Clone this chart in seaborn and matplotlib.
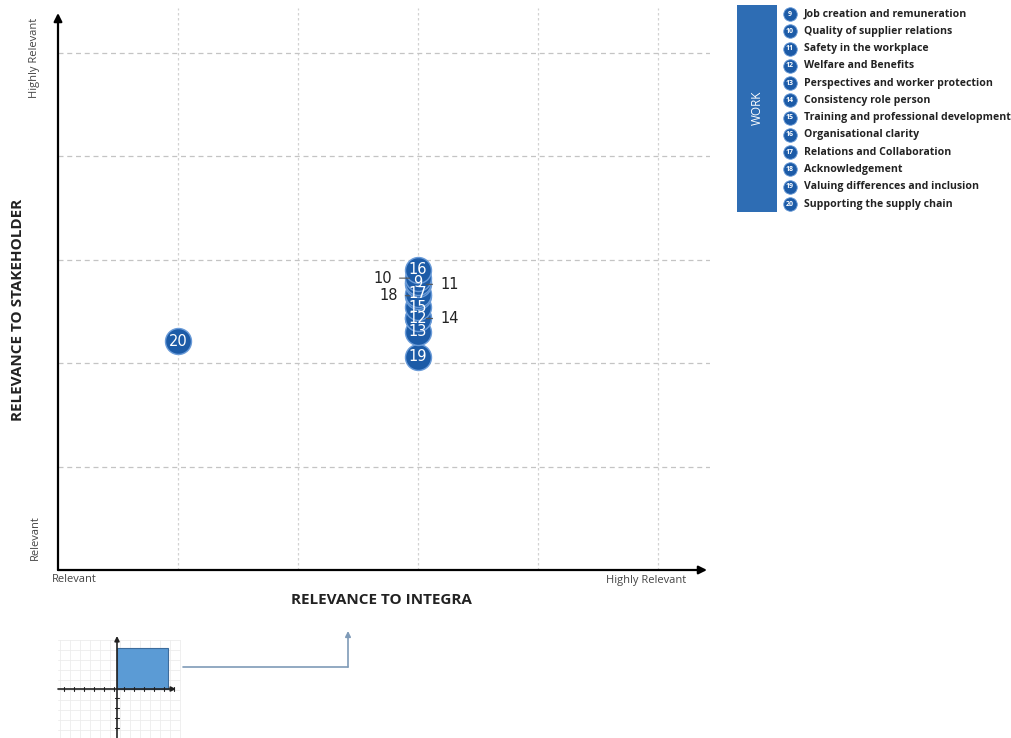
import pandas as pd
import matplotlib.pyplot as plt
import matplotlib.patches as mpatches
import seaborn as sns

# topics and their position on the materiality matrix
topic_ids = [9, 10, 11, 12, 13, 14, 15, 16, 17, 18, 19, 20]
topic_names = [
    "Job creation and remuneration",
    "Quality of supplier relations",
    "Safety in the workplace",
    "Welfare and Benefits",
    "Perspectives and worker protection",
    "Consistency role person",
    "Training and professional development",
    "Organisational clarity",
    "Relations and Collaboration",
    "Acknowledgement",
    "Valuing differences and inclusion",
    "Supporting the supply chain",
]
relevance_integra = [3, 3, 3, 3, 3, 3, 3, 3, 3, 3, 3, 1]
relevance_stakeholder = [2.78, 2.82, 2.76, 2.43, 2.30, 2.43, 2.54, 2.90, 2.67, 2.65, 2.06, 2.21]
# hidden points get an outside label: side and offset in pixels
callout = {10: -26, 11: 22, 18: -20, 14: 22}

df = pd.DataFrame({"id": topic_ids, "name": topic_names,
                   "x": relevance_integra, "y": relevance_stakeholder})

BLUE = "#1c5ba7"
BOX_BLUE = "#2e6db4"

sns.set_style("white")
plt.rcParams["font.family"] = ["Open Sans", "DejaVu Sans"]

W, H = 1012, 738
fig = plt.figure(figsize=(W / 100, H / 100), dpi=100)

# overlay in pixel coordinates for legend and decoration
ov = fig.add_axes([0, 0, 1, 1], zorder=0)
ov.set_xlim(0, W)
ov.set_ylim(H, 0)
ov.axis("off")
ov.patch.set_alpha(0)

# main matrix axes: 120 px per unit in x, 103.5 px per unit in y
XU, YU = 120, 103.5
ax = fig.add_axes([58 / W, 168 / H, 652 / W, 562 / H], zorder=2)
ax.patch.set_alpha(0)
ax.set_xlim(0, 652 / XU)
ax.set_ylim(0, 562 / YU)
for s in ax.spines.values():
    s.set_visible(False)
ax.set_xticks(range(1, 6), labels=[])
ax.set_yticks(range(1, 6), labels=[])
ax.tick_params(length=3, width=0.8, color="#444444", direction="inout")
for v in range(1, 6):
    ax.axvline(v, color="#d2d2d2", lw=0.9, ls=(0, (2, 2)), zorder=0)
    ax.axhline(v, color="#c4c4c4", lw=0.9, ls=(0, (4, 3)), zorder=0)

arrow = dict(arrowstyle="-|>", color="black", lw=1.6, mutation_scale=12, shrinkA=0, shrinkB=0)
ax.annotate("", xy=(649 / XU, 0), xytext=(0, 0), arrowprops=arrow)
ax.annotate("", xy=(0, 557 / YU), xytext=(0, 0), arrowprops=arrow)

order = df.sort_values("y")
sns.scatterplot(data=order, x="x", y="y", s=350, color=BLUE, edgecolor="#6a9bd8",
                linewidth=1.0, ax=ax, zorder=3, legend=False)
ax.set_xlabel("")
ax.set_ylabel("")

for _, r in df.iterrows():
    dx = callout.get(r["id"])
    if dx is None:
        ax.text(r["x"], r["y"], str(r["id"]), color="white", fontsize=10.5,
                family="DejaVu Sans", ha="center", va="center", zorder=5)
    else:
        ax.annotate(str(r["id"]), xy=(r["x"], r["y"]), xytext=(dx, 0),
                    textcoords="offset pixels", fontsize=10.5, family="DejaVu Sans",
                    color="#222222", ha="right" if dx < 0 else "left",
                    va="center", zorder=6,
                    arrowprops=dict(arrowstyle="-", color="#555555", lw=0.8,
                                    shrinkA=3, shrinkB=6))

# axis titles and end labels
fig.text(381 / W, 1 - 600 / H, "RELEVANCE TO INTEGRA", fontsize=11, fontweight="bold",
         ha="center", va="center", color="#222222")
fig.text(18 / W, 1 - 310 / H, "RELEVANCE TO STAKEHOLDER", fontsize=11, fontweight="bold",
         ha="center", va="center", rotation=90, color="#222222")
ov.text(52, 580, "Relevant", fontsize=8, ha="left", va="center", color="#444444")
ov.text(646, 581, "Highly Relevant", fontsize=8, ha="center", va="center", color="#444444")
ov.text(35, 58, "Highly Relevant", fontsize=8, ha="center", va="center", rotation=90, color="#444444")
ov.text(35, 538, "Relevant", fontsize=8, ha="center", va="center", rotation=90, color="#444444")

# legend block
ov.add_patch(mpatches.Rectangle((737, 5), 40, 207, color=BOX_BLUE, lw=0))
ov.text(757, 108, "WORK", color="white", fontsize=8.5, rotation=90, ha="center", va="center")
step = (204 - 14) / (len(df) - 1)
for i, r in df.iterrows():
    yy = 14 + i * step
    ov.scatter([790], [yy], s=95, color=BLUE, edgecolor="#6a9bd8", lw=0.6, zorder=3)
    ov.text(790, yy, str(r["id"]), color="white", fontsize=5, ha="center", va="center",
            fontweight="bold", zorder=4)
    ov.text(804, yy, r["name"], fontsize=7.6, fontweight="bold", color="#222222",
            ha="left", va="center")

# small quadrant icon bottom left
for gx in range(60, 181, 10):
    ov.plot([gx, gx], [640, 738], color="#ececec", lw=0.6, zorder=1)
for gy in range(640, 739, 10):
    ov.plot([58, 180], [gy, gy], color="#ececec", lw=0.6, zorder=1)
ov.add_patch(mpatches.Rectangle((117, 648), 51, 41, facecolor="#5b9bd5",
                                edgecolor="#3d6c9c", lw=0.8, zorder=3))
small = dict(arrowstyle="-|>", color="#222222", lw=1.2, mutation_scale=7, shrinkA=0, shrinkB=0)
ov.annotate("", xy=(176, 689), xytext=(58, 689), arrowprops=small, zorder=4)
ov.annotate("", xy=(117, 636), xytext=(117, 738), arrowprops=small, zorder=4)
for t in range(64, 176, 10):
    ov.plot([t, t], [687, 691], color="#222222", lw=0.8, zorder=4)
for t in range(698, 738, 10):
    ov.plot([115, 119], [t, t], color="#222222", lw=0.8, zorder=4)
ov.plot([183, 348], [667, 667], color="#7f9bb8", lw=1.2)
ov.annotate("", xy=(348, 631), xytext=(348, 667),
            arrowprops=dict(arrowstyle="-|>", color="#7f9bb8", lw=1.2, mutation_scale=8,
                            shrinkA=0, shrinkB=0))

fig.savefig("out.png", dpi=100)
